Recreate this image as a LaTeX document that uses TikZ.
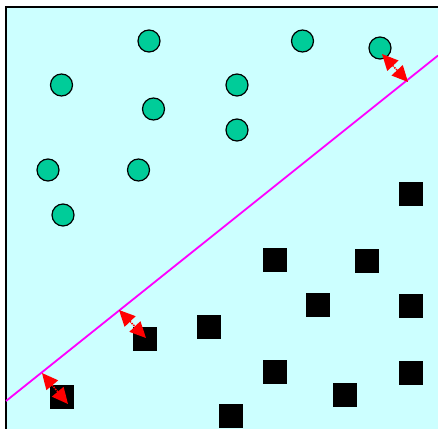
\documentclass[tikz,border=0pt]{standalone}
\usetikzlibrary{arrows.meta}
\definecolor{bgc}{HTML}{CCFFFF}
\definecolor{dotc}{HTML}{00CC99}
\definecolor{sepc}{HTML}{FF00FF}
\definecolor{margc}{HTML}{FF0000}
\begin{document}
\begin{tikzpicture}[x=1pt,y=-1pt,
  pt/.style={circle,draw=black,line width=1.2pt,fill=dotc,minimum size=22pt,inner sep=0pt},
  sq/.style={rectangle,fill=black,minimum size=24pt,inner sep=0pt},
  marg/.style={margc,densely dotted,line width=1.5pt,{Triangle[length=16pt,width=15pt]}-{Triangle[length=16pt,width=15pt]}},
  sep/.style={sepc,line width=1.8pt}]
\useasboundingbox (0,0) rectangle (438,428);
\fill[bgc] (6,7) rectangle (445,435);
\draw[line width=1.6pt] (6,440) -- (6,7) -- (445,7);
% circles
\node[pt] (c1) at (149,41) {};
\node[pt] (c2) at (302.5,41) {};
\node[pt] (c3) at (380,48) {};
\node[pt] (c4) at (61.5,85) {};
\node[pt] (c5) at (237,85) {};
\node[pt] (c6) at (153.5,109) {};
\node[pt] (c7) at (237,130) {};
\node[pt] (c8) at (48,170) {};
\node[pt] (c9) at (138.5,170) {};
\node[pt] (c10) at (63,215) {};
% squares
\node[sq] (s1) at (411,194) {};
\node[sq] (s2) at (274.5,260) {};
\node[sq] (s3) at (367,261) {};
\node[sq] (s4) at (318,305) {};
\node[sq] (s5) at (411,305.5) {};
\node[sq] (s6) at (209,327) {};
\node[sq] (s7) at (145,339) {};
\node[sq] (s8) at (274.5,372) {};
\node[sq] (s9) at (411,373) {};
\node[sq] (s10) at (345,395) {};
\node[sq] (s11) at (62,397) {};
\node[sq] (s12) at (231,416) {};
% separating line
\coordinate (l0) at (6,401);
\coordinate (l1) at (438,55.5);
\draw[sep] (l0) -- (l1);
% margins
\coordinate (a1) at (382,54);
\coordinate (b1) at (408,82);
\coordinate (a2) at (119,310);
\coordinate (b2) at (146,338);
\coordinate (a3) at (42,373);
\coordinate (b3) at (68,404);
\draw[marg] (a1) -- (b1);
\draw[marg] (a2) -- (b2);
\draw[marg] (a3) -- (b3);
\end{tikzpicture}
\end{document}
